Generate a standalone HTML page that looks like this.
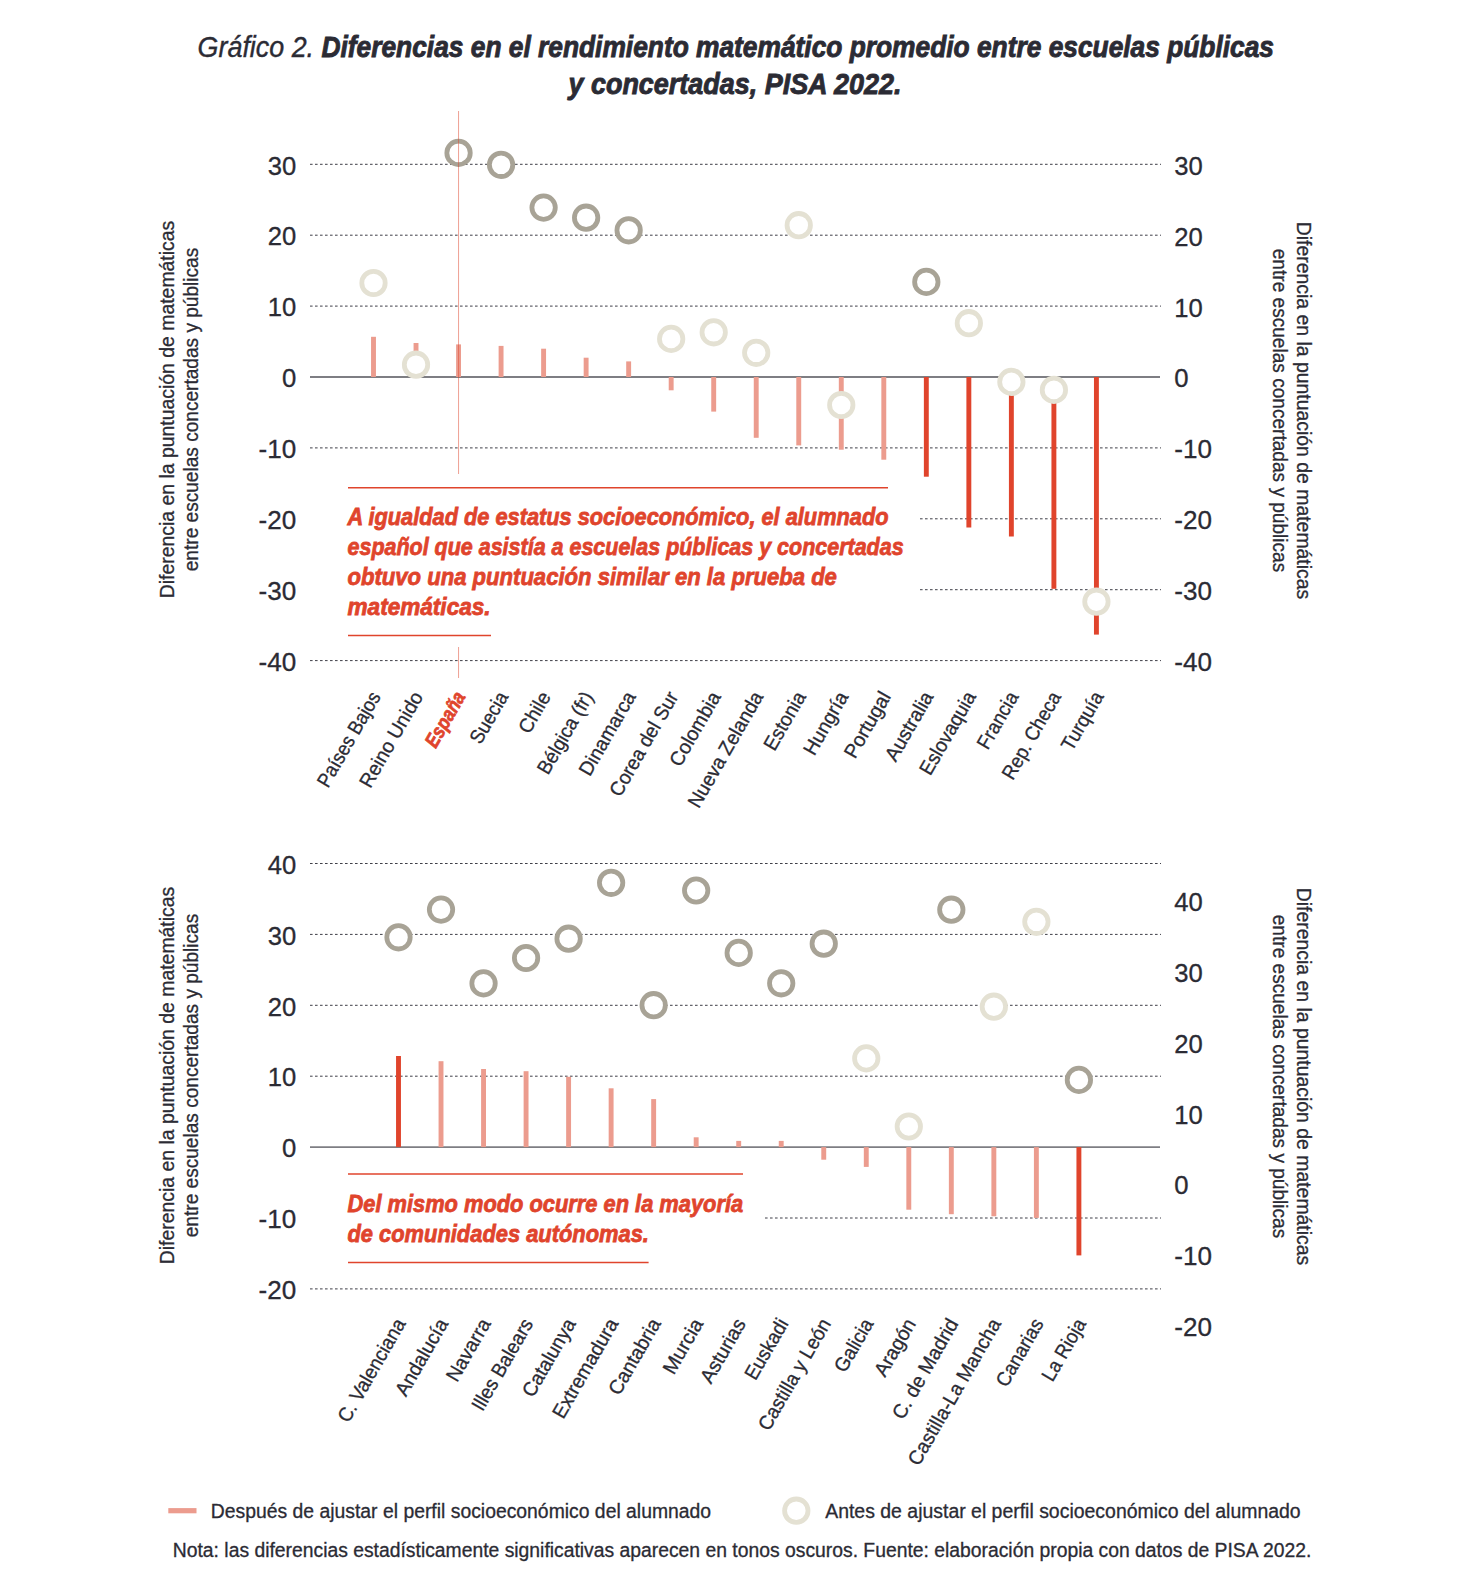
<!DOCTYPE html>
<html lang="es"><head><meta charset="utf-8"><title>Gráfico 2</title>
<style>html,body{margin:0;padding:0;background:#fff}svg{display:block}text{font-family:"Liberation Sans", sans-serif;fill:#2b2b34}.ax{font-size:19.5px;stroke:#2b2b34;stroke-width:.3px}.tk{font-size:25.5px;stroke:#2b2b34;stroke-width:.3px}.xl{font-size:20px;stroke:#2b2b34;stroke-width:.3px}.an{font-size:24px;font-weight:bold;font-style:italic;fill:#e0442c;stroke:#e0442c;stroke-width:.8px}.tb{font-size:29px;font-weight:bold;font-style:italic;stroke:#2b2b34;stroke-width:.9px}.ti{font-size:30px;font-style:italic;stroke:#2b2b34;stroke-width:.4px}.g{stroke:#3f3f48;stroke-width:1;stroke-dasharray:2.6 2.4;fill:none}.z{stroke:#7e7e83;stroke-width:1.8;fill:none}.bl{fill:#ec9c8e}.bd{fill:#e0442c}.cd{fill:#fff;stroke:#a8a396;stroke-width:4.8}.cl{fill:#fff;stroke:#e4e1d3;stroke-width:4.8}.r{stroke:#e0442c;stroke-width:1.5;fill:none}</style></head><body>
<svg width="1465" height="1582" viewBox="0 0 1465 1582">
<rect width="1465" height="1582" fill="#fff"/>
<text class="ti" x="197.6" y="57.2" textLength="116.5" lengthAdjust="spacingAndGlyphs">Gráfico 2.</text>
<text class="tb" x="321.5" y="57.2" textLength="952.5" lengthAdjust="spacingAndGlyphs">Diferencias en el rendimiento matemático promedio entre escuelas públicas</text>
<text class="tb" x="568.5" y="94.2" textLength="333.0" lengthAdjust="spacingAndGlyphs">y concertadas, PISA 2022.</text>
<line class="g" x1="310" x2="1161" y1="164.30" y2="164.30"/>
<line class="g" x1="310" x2="1161" y1="235.20" y2="235.20"/>
<line class="g" x1="310" x2="1161" y1="306.10" y2="306.10"/>
<line class="g" x1="310" x2="1161" y1="447.90" y2="447.90"/>
<line class="g" x1="310" x2="1161" y1="518.80" y2="518.80"/>
<line class="g" x1="310" x2="1161" y1="589.70" y2="589.70"/>
<line class="g" x1="310" x2="1161" y1="660.60" y2="660.60"/>
<rect x="305" y="474" width="614" height="173" fill="#fff"/>
<line class="z" x1="310" x2="1160" y1="377.00" y2="377.00"/>
<rect class="bl" x="371.05" y="336.80" width="4.9" height="40.20"/>
<rect class="bl" x="413.57" y="343.00" width="4.9" height="34.00"/>
<rect class="bl" x="456.10" y="344.40" width="4.9" height="32.60"/>
<rect class="bl" x="498.62" y="345.90" width="4.9" height="31.10"/>
<rect class="bl" x="541.15" y="348.70" width="4.9" height="28.30"/>
<rect class="bl" x="583.67" y="357.70" width="4.9" height="19.30"/>
<rect class="bl" x="626.20" y="361.40" width="4.9" height="15.60"/>
<rect class="bl" x="668.72" y="377.00" width="4.9" height="13.30"/>
<rect class="bl" x="711.25" y="377.00" width="4.9" height="34.60"/>
<rect class="bl" x="753.77" y="377.00" width="4.9" height="60.80"/>
<rect class="bl" x="796.30" y="377.00" width="4.9" height="68.40"/>
<rect class="bl" x="838.82" y="377.00" width="4.9" height="72.70"/>
<rect class="bl" x="881.35" y="377.00" width="4.9" height="82.70"/>
<rect class="bd" x="923.87" y="377.00" width="4.9" height="99.70"/>
<rect class="bd" x="966.40" y="377.00" width="4.9" height="150.50"/>
<rect class="bd" x="1008.92" y="377.00" width="4.9" height="159.50"/>
<rect class="bd" x="1051.45" y="377.00" width="4.9" height="211.80"/>
<rect class="bd" x="1093.97" y="377.00" width="4.9" height="257.60"/>
<circle class="cl" cx="373.50" cy="283.00" r="11.7"/>
<circle class="cl" cx="416.02" cy="364.70" r="11.7"/>
<circle class="cd" cx="458.55" cy="152.90" r="11.7"/>
<circle class="cd" cx="501.07" cy="164.80" r="11.7"/>
<circle class="cd" cx="543.60" cy="207.60" r="11.7"/>
<circle class="cd" cx="586.12" cy="217.70" r="11.7"/>
<circle class="cd" cx="628.65" cy="230.30" r="11.7"/>
<circle class="cl" cx="671.17" cy="338.90" r="11.7"/>
<circle class="cl" cx="713.70" cy="332.30" r="11.7"/>
<circle class="cl" cx="756.22" cy="352.80" r="11.7"/>
<circle class="cl" cx="798.75" cy="225.20" r="11.7"/>
<circle class="cl" cx="841.27" cy="405.00" r="11.7"/>
<circle class="cd" cx="926.32" cy="281.90" r="11.7"/>
<circle class="cl" cx="968.85" cy="323.20" r="11.7"/>
<circle class="cl" cx="1011.38" cy="381.90" r="11.7"/>
<circle class="cl" cx="1053.90" cy="389.90" r="11.7"/>
<circle class="cl" cx="1096.42" cy="601.70" r="11.7"/>
<text class="tk" x="296.3" y="174.5" text-anchor="end" textLength="28.5" lengthAdjust="spacingAndGlyphs">30</text>
<text class="tk" x="296.3" y="245.4" text-anchor="end" textLength="28.5" lengthAdjust="spacingAndGlyphs">20</text>
<text class="tk" x="296.3" y="316.3" text-anchor="end" textLength="28.5" lengthAdjust="spacingAndGlyphs">10</text>
<text class="tk" x="296.3" y="387.2" text-anchor="end" textLength="14.3" lengthAdjust="spacingAndGlyphs">0</text>
<text class="tk" x="296.3" y="458.1" text-anchor="end" textLength="37.7" lengthAdjust="spacingAndGlyphs">-10</text>
<text class="tk" x="296.3" y="529.0" text-anchor="end" textLength="37.7" lengthAdjust="spacingAndGlyphs">-20</text>
<text class="tk" x="296.3" y="599.9" text-anchor="end" textLength="37.7" lengthAdjust="spacingAndGlyphs">-30</text>
<text class="tk" x="296.3" y="670.8" text-anchor="end" textLength="37.7" lengthAdjust="spacingAndGlyphs">-40</text>
<text class="tk" x="1174.3" y="174.7" textLength="28.5" lengthAdjust="spacingAndGlyphs">30</text>
<text class="tk" x="1174.3" y="245.6" textLength="28.5" lengthAdjust="spacingAndGlyphs">20</text>
<text class="tk" x="1174.3" y="316.5" textLength="28.5" lengthAdjust="spacingAndGlyphs">10</text>
<text class="tk" x="1174.3" y="387.4" textLength="14.3" lengthAdjust="spacingAndGlyphs">0</text>
<text class="tk" x="1174.3" y="458.3" textLength="37.7" lengthAdjust="spacingAndGlyphs">-10</text>
<text class="tk" x="1174.3" y="529.2" textLength="37.7" lengthAdjust="spacingAndGlyphs">-20</text>
<text class="tk" x="1174.3" y="600.1" textLength="37.7" lengthAdjust="spacingAndGlyphs">-30</text>
<text class="tk" x="1174.3" y="671.0" textLength="37.7" lengthAdjust="spacingAndGlyphs">-40</text>
<text class="xl" transform="translate(375.00,692.9) rotate(-60)" text-anchor="end" dy="7.2" textLength="106.4" lengthAdjust="spacingAndGlyphs">Países Bajos</text>
<text class="xl" transform="translate(417.52,692.9) rotate(-60)" text-anchor="end" dy="7.2" textLength="107.2" lengthAdjust="spacingAndGlyphs">Reino Unido</text>
<text class="xl" transform="translate(460.05,692.9) rotate(-60)" text-anchor="end" dy="7" textLength="60.8" lengthAdjust="spacingAndGlyphs" style="font-weight:bold;font-style:italic;fill:#e0442c;stroke:#e0442c;stroke-width:.7px">España</text>
<text class="xl" transform="translate(502.57,692.9) rotate(-60)" text-anchor="end" dy="7.2" textLength="56.4" lengthAdjust="spacingAndGlyphs">Suecia</text>
<text class="xl" transform="translate(545.10,692.9) rotate(-60)" text-anchor="end" dy="7.2" textLength="44.4" lengthAdjust="spacingAndGlyphs">Chile</text>
<text class="xl" transform="translate(587.62,692.9) rotate(-60)" text-anchor="end" dy="7.2" textLength="91.6" lengthAdjust="spacingAndGlyphs">Bélgica (fr)</text>
<text class="xl" transform="translate(630.15,692.9) rotate(-60)" text-anchor="end" dy="7.2" textLength="93.2" lengthAdjust="spacingAndGlyphs">Dinamarca</text>
<text class="xl" transform="translate(672.67,692.9) rotate(-60)" text-anchor="end" dy="7.2" textLength="117.1" lengthAdjust="spacingAndGlyphs">Corea del Sur</text>
<text class="xl" transform="translate(715.20,692.9) rotate(-60)" text-anchor="end" dy="7.2" textLength="82.5" lengthAdjust="spacingAndGlyphs">Colombia</text>
<text class="xl" transform="translate(757.72,692.9) rotate(-60)" text-anchor="end" dy="7.2" textLength="130.2" lengthAdjust="spacingAndGlyphs">Nueva Zelanda</text>
<text class="xl" transform="translate(800.25,692.9) rotate(-60)" text-anchor="end" dy="7.2" textLength="64.1" lengthAdjust="spacingAndGlyphs">Estonia</text>
<text class="xl" transform="translate(842.77,692.9) rotate(-60)" text-anchor="end" dy="7.2" textLength="69.5" lengthAdjust="spacingAndGlyphs">Hungría</text>
<text class="xl" transform="translate(885.30,692.9) rotate(-60)" text-anchor="end" dy="7.2" textLength="73.1" lengthAdjust="spacingAndGlyphs">Portugal</text>
<text class="xl" transform="translate(927.82,692.9) rotate(-60)" text-anchor="end" dy="7.2" textLength="76.4" lengthAdjust="spacingAndGlyphs">Australia</text>
<text class="xl" transform="translate(970.35,692.9) rotate(-60)" text-anchor="end" dy="7.2" textLength="92.5" lengthAdjust="spacingAndGlyphs">Eslovaquia</text>
<text class="xl" transform="translate(1012.88,692.9) rotate(-60)" text-anchor="end" dy="7.2" textLength="62.6" lengthAdjust="spacingAndGlyphs">Francia</text>
<text class="xl" transform="translate(1055.40,692.9) rotate(-60)" text-anchor="end" dy="7.2" textLength="97.6" lengthAdjust="spacingAndGlyphs">Rep. Checa</text>
<text class="xl" transform="translate(1097.92,692.9) rotate(-60)" text-anchor="end" dy="7.2" textLength="64.5" lengthAdjust="spacingAndGlyphs">Turquía</text>
<text class="ax" transform="translate(173.8,409.5) rotate(-90)" text-anchor="middle" textLength="377.5" lengthAdjust="spacingAndGlyphs">Diferencia en la puntuación de matemáticas</text>
<text class="ax" transform="translate(198,409.5) rotate(-90)" text-anchor="middle" textLength="323.5" lengthAdjust="spacingAndGlyphs">entre escuelas concertadas y públicas</text>
<text class="ax" transform="translate(1296.8,410.5) rotate(90)" text-anchor="middle" textLength="377.5" lengthAdjust="spacingAndGlyphs">Diferencia en la puntuación de matemáticas</text>
<text class="ax" transform="translate(1272.8,410.5) rotate(90)" text-anchor="middle" textLength="323.5" lengthAdjust="spacingAndGlyphs">entre escuelas concertadas y públicas</text>
<line x1="458.55" x2="458.55" y1="111" y2="474" stroke="#e0442c" stroke-opacity=".5" stroke-width="1"/>
<line x1="458.55" x2="458.55" y1="647" y2="678" stroke="#e0442c" stroke-opacity=".5" stroke-width="1"/>
<line class="r" x1="348" x2="888" y1="487.8" y2="487.8"/>
<text class="an" x="347.5" y="524.9" textLength="541.0" lengthAdjust="spacingAndGlyphs">A igualdad de estatus socioeconómico, el alumnado</text>
<text class="an" x="347.5" y="554.8" textLength="556.1" lengthAdjust="spacingAndGlyphs">español que asistía a escuelas públicas y concertadas</text>
<text class="an" x="347.5" y="584.6" textLength="489.4" lengthAdjust="spacingAndGlyphs">obtuvo una puntuación similar en la prueba de</text>
<text class="an" x="347.5" y="614.5" textLength="143.1" lengthAdjust="spacingAndGlyphs">matemáticas.</text>
<line class="r" x1="348" x2="491" y1="635.5" y2="635.5"/>
<line class="g" x1="310" x2="1161" y1="863.50" y2="863.50"/>
<line class="g" x1="310" x2="1161" y1="934.40" y2="934.40"/>
<line class="g" x1="310" x2="1161" y1="1005.30" y2="1005.30"/>
<line class="g" x1="310" x2="1161" y1="1076.20" y2="1076.20"/>
<line class="g" x1="310" x2="1161" y1="1218.00" y2="1218.00"/>
<line class="g" x1="310" x2="1161" y1="1288.90" y2="1288.90"/>
<rect x="305" y="1160" width="459" height="115" fill="#fff"/>
<line class="z" x1="310" x2="1160" y1="1147.10" y2="1147.10"/>
<rect class="bd" x="396.05" y="1056.00" width="4.9" height="91.10"/>
<rect class="bl" x="438.57" y="1061.20" width="4.9" height="85.90"/>
<rect class="bl" x="481.10" y="1069.00" width="4.9" height="78.10"/>
<rect class="bl" x="523.62" y="1071.20" width="4.9" height="75.90"/>
<rect class="bl" x="566.15" y="1076.80" width="4.9" height="70.30"/>
<rect class="bl" x="608.67" y="1088.30" width="4.9" height="58.80"/>
<rect class="bl" x="651.20" y="1099.10" width="4.9" height="48.00"/>
<rect class="bl" x="693.72" y="1137.30" width="4.9" height="9.80"/>
<rect class="bl" x="736.25" y="1140.90" width="4.9" height="6.20"/>
<rect class="bl" x="778.77" y="1140.90" width="4.9" height="6.20"/>
<rect class="bl" x="821.30" y="1147.10" width="4.9" height="12.60"/>
<rect class="bl" x="863.82" y="1147.10" width="4.9" height="19.80"/>
<rect class="bl" x="906.35" y="1147.10" width="4.9" height="62.60"/>
<rect class="bl" x="948.87" y="1147.10" width="4.9" height="67.10"/>
<rect class="bl" x="991.40" y="1147.10" width="4.9" height="69.20"/>
<rect class="bl" x="1033.92" y="1147.10" width="4.9" height="70.80"/>
<rect class="bd" x="1076.45" y="1147.10" width="4.9" height="108.30"/>
<circle class="cd" cx="398.50" cy="937.30" r="11.7"/>
<circle class="cd" cx="441.02" cy="909.60" r="11.7"/>
<circle class="cd" cx="483.55" cy="983.40" r="11.7"/>
<circle class="cd" cx="526.08" cy="958.00" r="11.7"/>
<circle class="cd" cx="568.60" cy="938.70" r="11.7"/>
<circle class="cd" cx="611.12" cy="882.80" r="11.7"/>
<circle class="cd" cx="653.65" cy="1005.20" r="11.7"/>
<circle class="cd" cx="696.17" cy="890.50" r="11.7"/>
<circle class="cd" cx="738.70" cy="952.90" r="11.7"/>
<circle class="cd" cx="781.22" cy="983.30" r="11.7"/>
<circle class="cd" cx="823.75" cy="943.70" r="11.7"/>
<circle class="cl" cx="866.27" cy="1058.40" r="11.7"/>
<circle class="cl" cx="908.80" cy="1126.50" r="11.7"/>
<circle class="cd" cx="951.32" cy="909.70" r="11.7"/>
<circle class="cl" cx="993.85" cy="1006.70" r="11.7"/>
<circle class="cl" cx="1036.38" cy="921.80" r="11.7"/>
<circle class="cd" cx="1078.90" cy="1079.90" r="11.7"/>
<text class="tk" x="296.3" y="873.7" text-anchor="end" textLength="28.5" lengthAdjust="spacingAndGlyphs">40</text>
<text class="tk" x="296.3" y="944.6" text-anchor="end" textLength="28.5" lengthAdjust="spacingAndGlyphs">30</text>
<text class="tk" x="296.3" y="1015.5" text-anchor="end" textLength="28.5" lengthAdjust="spacingAndGlyphs">20</text>
<text class="tk" x="296.3" y="1086.4" text-anchor="end" textLength="28.5" lengthAdjust="spacingAndGlyphs">10</text>
<text class="tk" x="296.3" y="1157.3" text-anchor="end" textLength="14.3" lengthAdjust="spacingAndGlyphs">0</text>
<text class="tk" x="296.3" y="1228.2" text-anchor="end" textLength="37.7" lengthAdjust="spacingAndGlyphs">-10</text>
<text class="tk" x="296.3" y="1299.1" text-anchor="end" textLength="37.7" lengthAdjust="spacingAndGlyphs">-20</text>
<text class="tk" x="1174.3" y="911.2" textLength="28.5" lengthAdjust="spacingAndGlyphs">40</text>
<text class="tk" x="1174.3" y="982.0" textLength="28.5" lengthAdjust="spacingAndGlyphs">30</text>
<text class="tk" x="1174.3" y="1052.8" textLength="28.5" lengthAdjust="spacingAndGlyphs">20</text>
<text class="tk" x="1174.3" y="1123.6" textLength="28.5" lengthAdjust="spacingAndGlyphs">10</text>
<text class="tk" x="1174.3" y="1194.4" textLength="14.3" lengthAdjust="spacingAndGlyphs">0</text>
<text class="tk" x="1174.3" y="1265.2" textLength="37.7" lengthAdjust="spacingAndGlyphs">-10</text>
<text class="tk" x="1174.3" y="1336.0" textLength="37.7" lengthAdjust="spacingAndGlyphs">-20</text>
<text class="xl" transform="translate(400.00,1319.9) rotate(-60)" text-anchor="end" dy="7.2" textLength="115.7" lengthAdjust="spacingAndGlyphs">C. Valenciana</text>
<text class="xl" transform="translate(442.52,1319.9) rotate(-60)" text-anchor="end" dy="7.2" textLength="85.5" lengthAdjust="spacingAndGlyphs">Andalucía</text>
<text class="xl" transform="translate(485.05,1319.9) rotate(-60)" text-anchor="end" dy="7.2" textLength="68.7" lengthAdjust="spacingAndGlyphs">Navarra</text>
<text class="xl" transform="translate(527.58,1319.9) rotate(-60)" text-anchor="end" dy="7.2" textLength="102.5" lengthAdjust="spacingAndGlyphs">Illes Balears</text>
<text class="xl" transform="translate(570.10,1319.9) rotate(-60)" text-anchor="end" dy="7.2" textLength="86.7" lengthAdjust="spacingAndGlyphs">Catalunya</text>
<text class="xl" transform="translate(612.62,1319.9) rotate(-60)" text-anchor="end" dy="7.2" textLength="111.4" lengthAdjust="spacingAndGlyphs">Extremadura</text>
<text class="xl" transform="translate(655.15,1319.9) rotate(-60)" text-anchor="end" dy="7.2" textLength="84.2" lengthAdjust="spacingAndGlyphs">Cantabria</text>
<text class="xl" transform="translate(697.67,1319.9) rotate(-60)" text-anchor="end" dy="7.2" textLength="60.4" lengthAdjust="spacingAndGlyphs">Murcia</text>
<text class="xl" transform="translate(740.20,1319.9) rotate(-60)" text-anchor="end" dy="7.2" textLength="70.8" lengthAdjust="spacingAndGlyphs">Asturias</text>
<text class="xl" transform="translate(782.72,1319.9) rotate(-60)" text-anchor="end" dy="7.2" textLength="66.7" lengthAdjust="spacingAndGlyphs">Euskadi</text>
<text class="xl" transform="translate(825.25,1319.9) rotate(-60)" text-anchor="end" dy="7.2" textLength="125.2" lengthAdjust="spacingAndGlyphs">Castilla y León</text>
<text class="xl" transform="translate(867.77,1319.9) rotate(-60)" text-anchor="end" dy="7.2" textLength="58.0" lengthAdjust="spacingAndGlyphs">Galicia</text>
<text class="xl" transform="translate(910.30,1319.9) rotate(-60)" text-anchor="end" dy="7.2" textLength="63.0" lengthAdjust="spacingAndGlyphs">Aragón</text>
<text class="xl" transform="translate(952.82,1319.9) rotate(-60)" text-anchor="end" dy="7.2" textLength="112.2" lengthAdjust="spacingAndGlyphs">C. de Madrid</text>
<text class="xl" transform="translate(995.35,1319.9) rotate(-60)" text-anchor="end" dy="7.2" textLength="165.6" lengthAdjust="spacingAndGlyphs">Castilla-La Mancha</text>
<text class="xl" transform="translate(1037.88,1319.9) rotate(-60)" text-anchor="end" dy="7.2" textLength="74.7" lengthAdjust="spacingAndGlyphs">Canarias</text>
<text class="xl" transform="translate(1080.40,1319.9) rotate(-60)" text-anchor="end" dy="7.2" textLength="68.3" lengthAdjust="spacingAndGlyphs">La Rioja</text>
<text class="ax" transform="translate(173.8,1075.5) rotate(-90)" text-anchor="middle" textLength="377.5" lengthAdjust="spacingAndGlyphs">Diferencia en la puntuación de matemáticas</text>
<text class="ax" transform="translate(198,1075.5) rotate(-90)" text-anchor="middle" textLength="323.5" lengthAdjust="spacingAndGlyphs">entre escuelas concertadas y públicas</text>
<text class="ax" transform="translate(1296.8,1076.5) rotate(90)" text-anchor="middle" textLength="377.5" lengthAdjust="spacingAndGlyphs">Diferencia en la puntuación de matemáticas</text>
<text class="ax" transform="translate(1272.8,1076.5) rotate(90)" text-anchor="middle" textLength="323.5" lengthAdjust="spacingAndGlyphs">entre escuelas concertadas y públicas</text>
<line class="r" x1="348" x2="743" y1="1174.1" y2="1174.1"/>
<text class="an" x="347.5" y="1212.4" textLength="395.6" lengthAdjust="spacingAndGlyphs">Del mismo modo ocurre en la mayoría</text>
<text class="an" x="347.5" y="1242.0" textLength="301.4" lengthAdjust="spacingAndGlyphs">de comunidades autónomas.</text>
<line class="r" x1="348" x2="648.6" y1="1262.5" y2="1262.5"/>
<rect x="168.3" y="1508.1" width="28.2" height="5.2" fill="#ec9c8e"/>
<text class="ax" x="210.8" y="1518.0" textLength="500.3" lengthAdjust="spacingAndGlyphs">Después de ajustar el perfil socioeconómico del alumnado</text>
<circle class="cl" cx="796.3" cy="1510.7" r="11.7"/>
<text class="ax" x="825.2" y="1518.0" textLength="475.5" lengthAdjust="spacingAndGlyphs">Antes de ajustar el perfil socioeconómico del alumnado</text>
<text class="ax" x="172.8" y="1556.6" textLength="1138.5" lengthAdjust="spacingAndGlyphs">Nota: las diferencias estadísticamente significativas aparecen en tonos oscuros. Fuente: elaboración propia con datos de PISA 2022.</text>
</svg></body></html>
